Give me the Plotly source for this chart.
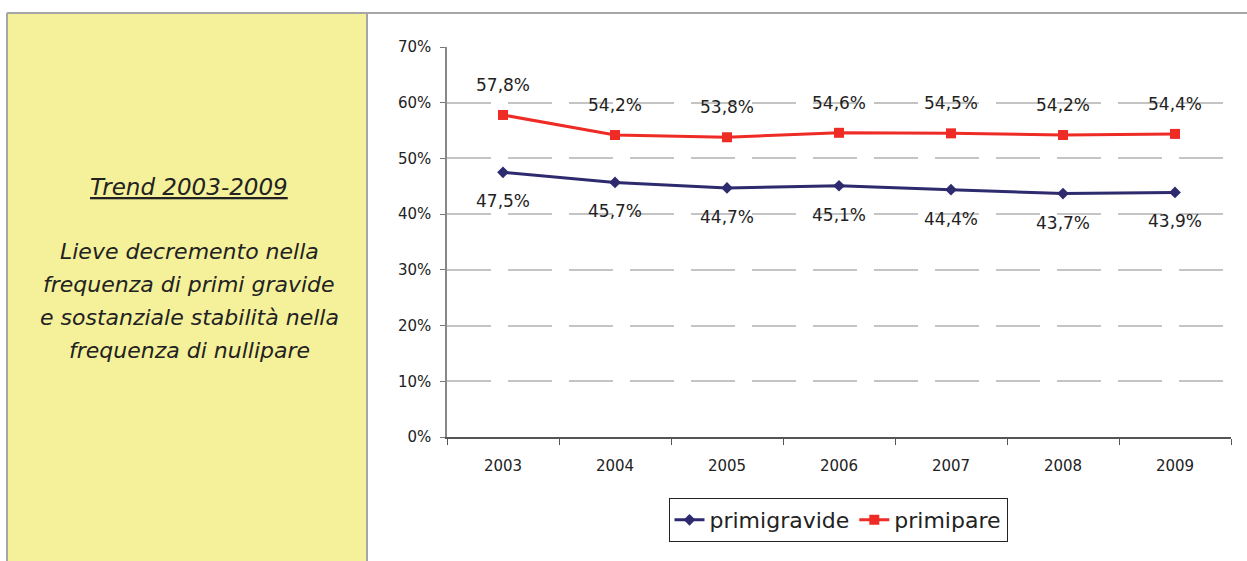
import plotly.graph_objects as go

years = ["2003", "2004", "2005", "2006", "2007", "2008", "2009"]
primigravide = [47.5, 45.7, 44.7, 45.1, 44.4, 43.7, 43.9]
primipare = [57.8, 54.2, 53.8, 54.6, 54.5, 54.2, 54.4]
y_ticks = [0, 10, 20, 30, 40, 50, 60, 70]
y_tick_labels = [f"{v}%" for v in y_ticks]
side_title = "Trend 2003-2009"
side_lines = ["Lieve decremento nella", "frequenza di primi gravide",
              "e sostanziale stabilità nella", "frequenza di nullipare"]

W, H = 1247, 561
RED = "#ee2b25"
BLUE = "#2d2a6e"

def px(x):
    return x / W

def py(y):
    return 1 - y / H

fig = go.Figure()
fig.add_trace(go.Scatter(x=years, y=primigravide, name="primigravide", mode="lines+markers",
                         line=dict(color=BLUE, width=3),
                         marker=dict(symbol="diamond", size=9, color=BLUE)))
fig.add_trace(go.Scatter(x=years, y=primipare, name="primipare", mode="lines+markers",
                         line=dict(color=RED, width=3),
                         marker=dict(symbol="square", size=10, color=RED)))

def fmt(v):
    return f"{v:.1f}".replace(".", ",") + "%"

lab_font = dict(family="DejaVu Sans", size=17, color="#222")
ann = []
for i, v in enumerate(primipare):
    ann.append(dict(x=i, y=v, xref="x", yref="y", text=fmt(v), showarrow=False, yshift=30,
                    font=lab_font))
for i, v in enumerate(primigravide):
    ann.append(dict(x=i, y=v, xref="x", yref="y", text=fmt(v), showarrow=False, yshift=-29,
                    font=lab_font))

side_font = dict(family="DejaVu Sans", size=22, color="#222")
ann.append(dict(x=px(189), y=py(187), xref="paper", yref="paper", showarrow=False,
                text=f"<i><u>{side_title}</u></i>", font=dict(family="DejaVu Sans", size=23, color="#222"),
                xanchor="center", yanchor="middle"))
for i, t in enumerate(side_lines):
    ann.append(dict(x=px(189), y=py(251 + 33 * i), xref="paper", yref="paper", showarrow=False,
                    text=f"<i>{t}</i>", font=side_font, xanchor="center", yanchor="middle"))

shapes = [
    dict(type="rect", xref="paper", yref="paper", x0=px(7), x1=px(367), y0=0, y1=py(13),
         fillcolor="#f5f19a", line=dict(width=0), layer="below"),
    dict(type="line", xref="paper", yref="paper", x0=px(7), x1=1, y0=py(13), y1=py(13),
         line=dict(color="#a6a6a6", width=2)),
    dict(type="line", xref="paper", yref="paper", x0=px(7), x1=px(7), y0=0, y1=py(13),
         line=dict(color="#a6a6a6", width=2)),
    dict(type="line", xref="paper", yref="paper", x0=px(367), x1=px(367), y0=0, y1=py(13),
         line=dict(color="#a6a6a6", width=2)),
]

fig.update_layout(
    width=W, height=H, margin=dict(l=0, r=0, t=0, b=0, autoexpand=False),
    paper_bgcolor="white", plot_bgcolor="white",
    annotations=ann, shapes=shapes,
    legend=dict(orientation="h", x=px(838), y=py(520), xanchor="center", yanchor="middle",
                bordercolor="#222", borderwidth=1, bgcolor="white",
                font=dict(family="DejaVu Sans", size=22, color="#222"), itemwidth=30),
    xaxis=dict(domain=[px(447), px(1231)], type="category", tickson="boundaries",
               ticks="outside", ticklen=6, tickcolor="#555", showline=True, linecolor="#555",
               linewidth=1.5, showgrid=False, range=[-0.5, 6.5], automargin=False,
               ticklabelstandoff=14,
               tickfont=dict(family="DejaVu Sans", size=15, color="#222")),
    yaxis=dict(domain=[py(437), py(47)], range=[0, 70], tickvals=y_ticks, ticktext=y_tick_labels,
               ticks="outside", ticklen=5, tickcolor="#777", showline=True, linecolor="#888",
               linewidth=1.5, showgrid=True, gridcolor="#c4c4c4", griddash="44px,17px",
               gridwidth=1.5, zeroline=False, automargin=False, ticklabelstandoff=6,
               tickfont=dict(family="DejaVu Sans", size=15, color="#222")),
)

fig.write_html("out.html", config={"displayModeBar": False},
               post_script="document.body.style.margin='0';document.body.style.overflow='hidden';")
